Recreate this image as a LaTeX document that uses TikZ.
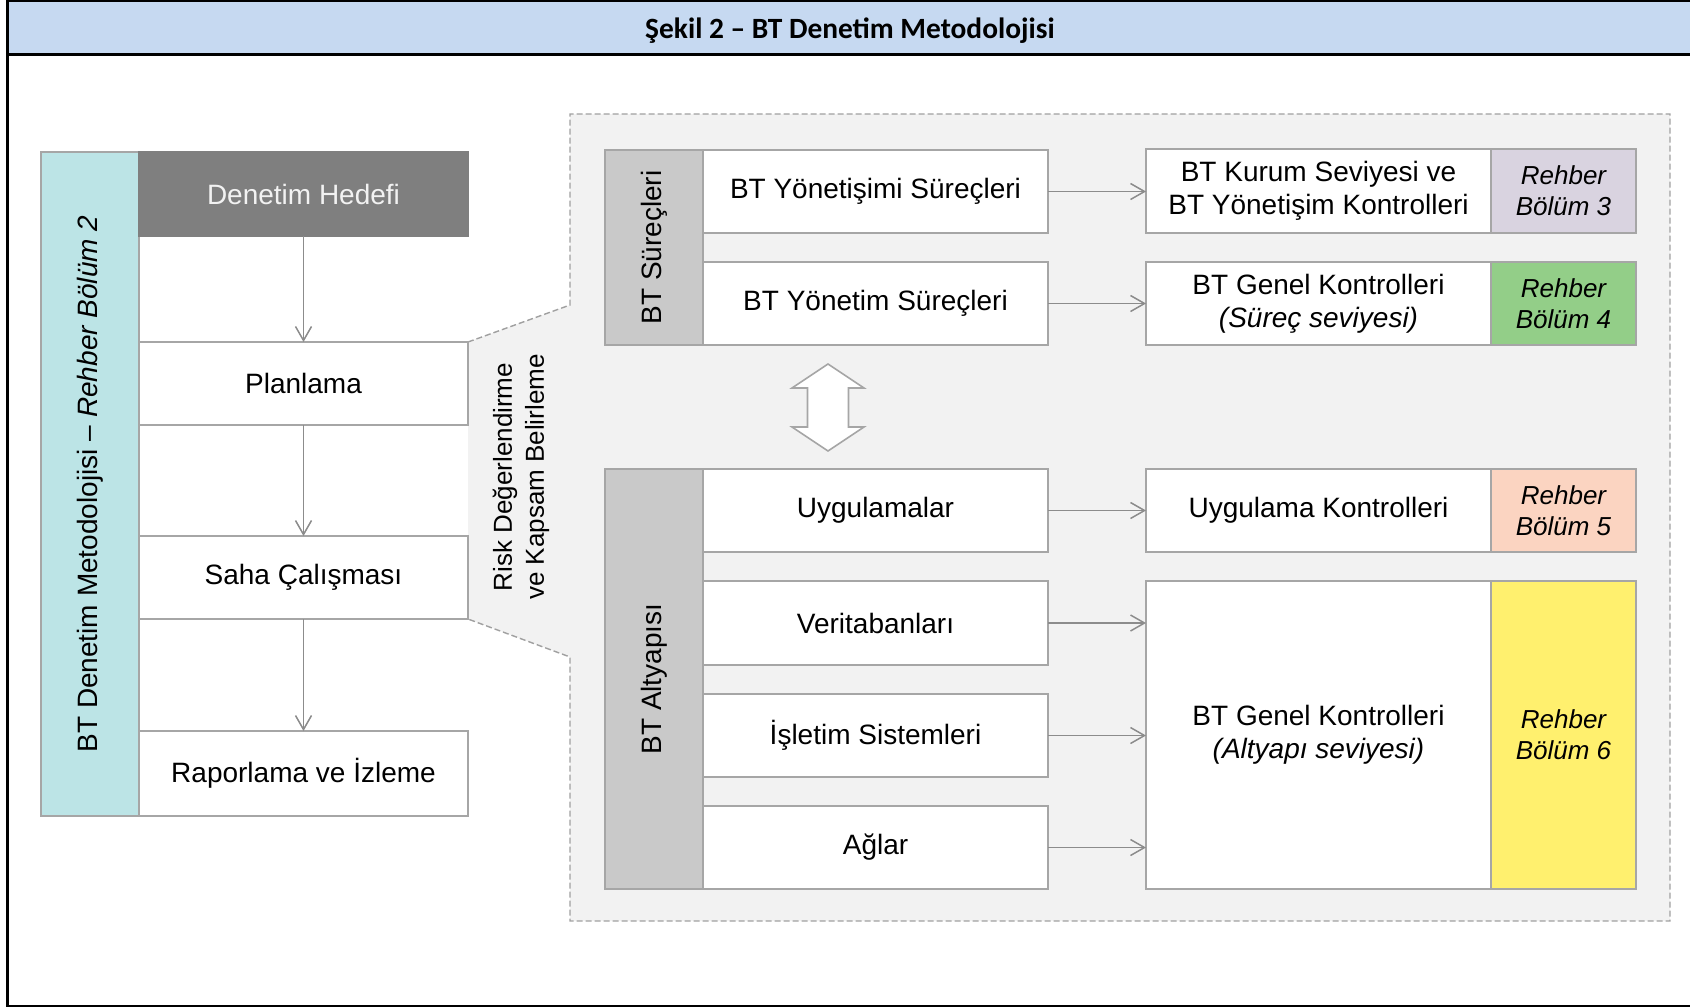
\documentclass[tikz,border=0pt]{standalone}
\usepackage{fontspec}
\setmainfont{Liberation Sans}
\newfontfamily\headfont{Carlito}
\usetikzlibrary{arrows.meta}

\definecolor{headblue}{HTML}{C6D9F1}
\definecolor{methcyan}{HTML}{BCE4E6}
\definecolor{darkhead}{HTML}{7F7F7F}
\definecolor{barfill}{HTML}{C9C9C9}
\definecolor{boxline}{HTML}{A6A6A6}
\definecolor{arrowgray}{HTML}{8C8C8C}
\definecolor{regionfill}{HTML}{F2F2F2}
\definecolor{regionline}{HTML}{A0A0A0}
\definecolor{guidelav}{HTML}{D9D3E0}
\definecolor{guidegreen}{HTML}{93CE88}
\definecolor{guidepeach}{HTML}{FBD4C1}
\definecolor{guideyellow}{HTML}{FFF06E}

\begin{document}
\begin{tikzpicture}[x=0.5pt,y=-0.5pt,
  box/.style={draw=boxline, fill=white, line width=0.8pt, inner sep=0pt, outer sep=0pt,
    minimum height=41.5pt, align=center, font=\fontsize{14}{16.5}\selectfont},
  flowbox/.style={box, minimum width=164.5pt},
  procbox/.style={box, minimum width=172.5pt},
  ctrlbox/.style={box, minimum width=172.5pt},
  guidebox/.style={box, minimum width=72.5pt, font=\fontsize{13}{15.5}\selectfont\itshape},
  sidebar/.style={box, fill=barfill, minimum width=49pt},
  arr/.style={draw=arrowgray, line width=0.75pt, -{Straight Barb[length=7pt,width=8pt]}},
  dashline/.style={draw=regionline, line width=0.7pt, dash pattern=on 3pt off 1.5pt}
]
\useasboundingbox (0,0) rectangle (1690,1007);

% page frame and title band
\fill[headblue] (7.5,1) rectangle (1690,54.5);
\draw[black, line width=1.2pt] (1690,1) -- (7.5,1) -- (7.5,1006) -- (1690,1006);
\draw[black, line width=1.2pt] (7.5,54.5) -- (1690,54.5);
\node[font=\headfont\bfseries\fontsize{14.7}{17}\selectfont] (title) at (850,31)
  {Şekil 2 – BT Denetim Metodolojisi};

% zoomed-in planning region
\fill[regionfill] (468,342) -- (570,305) -- (570,114) -- (1670,114) -- (1670,921)
  -- (570,921) -- (570,657) -- (468,619) -- cycle;
\draw[dashline] (468,342) -- (570,305) -- (570,114) -- (1670,114) -- (1670,921)
  -- (570,921) -- (570,657) -- (468,619);

% methodology column
\node[box, fill=methcyan, minimum width=49pt, minimum height=332pt] (meth) at (90,484)
  {\rotatebox{90}{BT Denetim Metodolojisi – \textit{Rehber Bölüm 2}}};
\node[flowbox, fill=darkhead, draw=darkhead, minimum height=42pt, text=regionfill] (hedef) at (303.5,194) {Denetim Hedefi};
\node[flowbox] (plan) at (303.5,383.5) {Planlama};
\node[flowbox] (saha) at (303.5,577.5) {Saha Çalışması};
\node[flowbox, minimum height=42.5pt] (rapor) at (303.5,773.5) {Raporlama ve İzleme};
\draw[arr] (hedef.south) -- (plan.north);
\draw[arr] (plan.south) -- (saha.north);
\draw[arr] (saha.south) -- (rapor.north);

\node[rotate=90, align=center, font=\fontsize{13}{16}\selectfont] (risk) at (521,477)
  {Risk Değerlendirme\\ve Kapsam Belirleme};

% IT processes
\node[sidebar, minimum height=97.5pt] (surec) at (654,247.5) {\rotatebox{90}{BT Süreçleri}};
\node[procbox] (yonetisim) at (875.5,191.5) {BT Yönetişimi Süreçleri};
\node[procbox] (yonetim) at (875.5,303.5) {BT Yönetim Süreçleri};

\node[ctrlbox, minimum height=42pt] (kurum) at (1318.5,191) {BT Kurum Seviyesi ve\\BT Yönetişim Kontrolleri};
\node[guidebox, fill=guidelav, minimum height=42pt] (g3) at (1563.5,191) {Rehber\\Bölüm 3};
\node[ctrlbox] (genels) at (1318.5,303.5) {BT Genel Kontrolleri\\\textit{(Süreç seviyesi)}};
\node[guidebox, fill=guidegreen] (g4) at (1563.5,303.5) {Rehber\\Bölüm 4};
\draw[arr] (yonetisim.east) -- (yonetisim.east -| kurum.west);
\draw[arr] (yonetim.east) -- (genels.west);

% two-way link between processes and infrastructure
\draw[draw=boxline, fill=white, line width=0.8pt, line join=miter]
  (828,364) -- (864,388) -- (848.5,388) -- (848.5,427) -- (864,427) -- (828,451)
  -- (792,427) -- (807.5,427) -- (807.5,388) -- (792,388) -- cycle;

% IT infrastructure
\node[sidebar, minimum height=210pt] (altyapi) at (654,679) {\rotatebox{90}{BT Altyapısı}};
\node[procbox] (uyg) at (875.5,510.5) {Uygulamalar};
\node[procbox, minimum height=42pt] (veri) at (875.5,623) {Veritabanları};
\node[procbox] (isletim) at (875.5,735.5) {İşletim Sistemleri};
\node[procbox] (aglar) at (875.5,847.5) {Ağlar};

\node[ctrlbox] (uygk) at (1318.5,510.5) {Uygulama Kontrolleri};
\node[guidebox, fill=guidepeach] (g5) at (1563.5,510.5) {Rehber\\Bölüm 5};
\node[ctrlbox, minimum height=154pt] (genela) at (1318.5,735) {BT Genel Kontrolleri\\\textit{(Altyapı seviyesi)}};
\node[guidebox, fill=guideyellow, minimum height=154pt] (g6) at (1563.5,735) {Rehber\\Bölüm 6};

\draw[arr] (uyg.east) -- (uygk.west);
\draw[arr] (veri.east) -- (veri.east -| genela.west);
\draw[arr] (isletim.east) -- (isletim.east -| genela.west);
\draw[arr] (aglar.east) -- (aglar.east -| genela.west);
\end{tikzpicture}
\end{document}
